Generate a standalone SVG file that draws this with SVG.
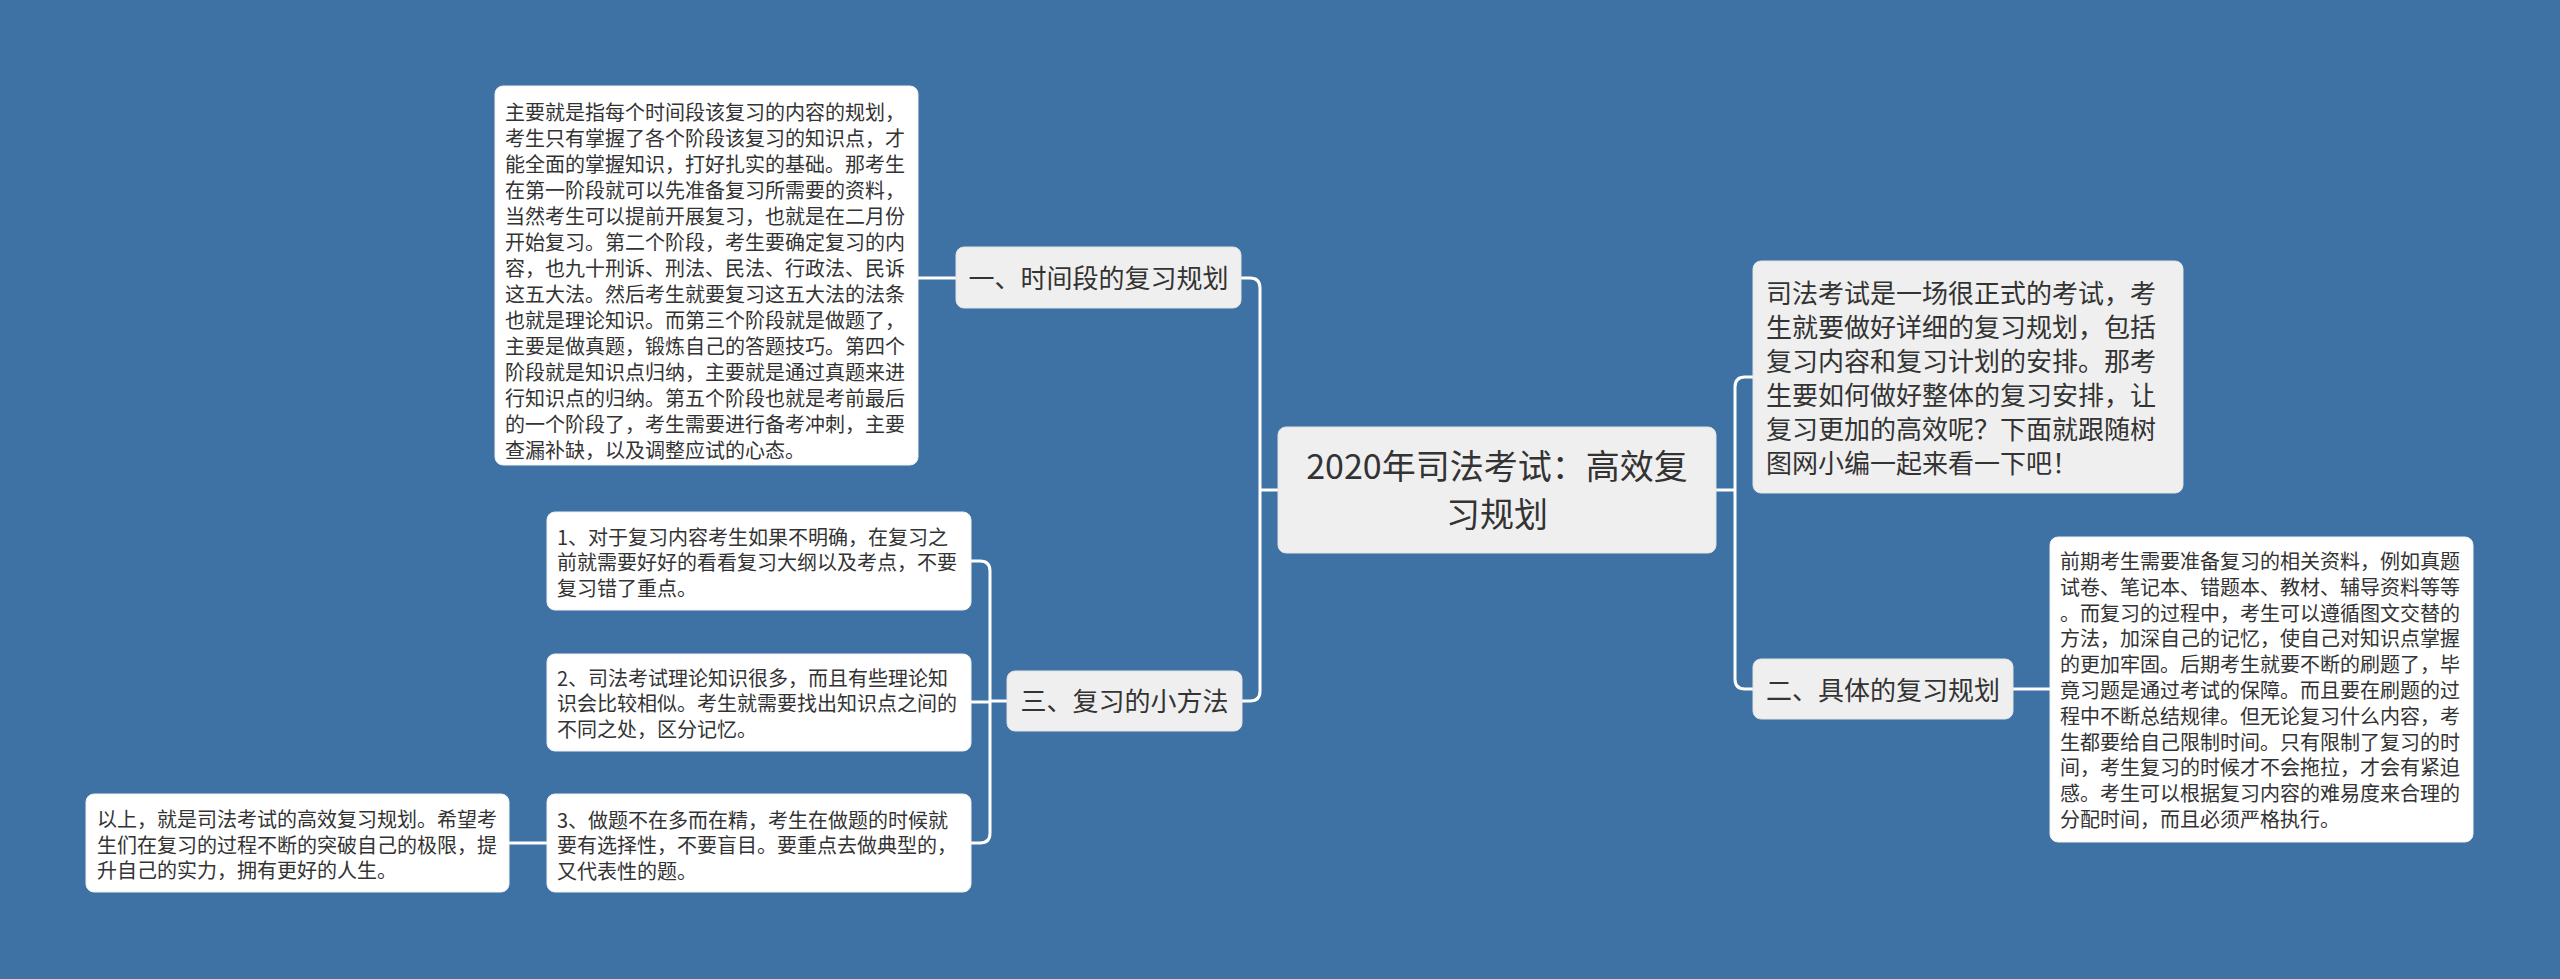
<svg xmlns="http://www.w3.org/2000/svg" width="2560" height="979" viewBox="0 0 2560 979">
<defs>
<style>
.bg{fill:#3e72a5}
.gray{fill:#efefef;stroke:#e2e2e2;stroke-width:1}
.white{fill:#ffffff;stroke:#f0f0f0;stroke-width:1}
.t{font-family:"Noto Sans CJK SC","Noto Sans",sans-serif;fill:#333333}
.root{font-size:34px;text-anchor:middle}
.br{font-size:26px;text-anchor:middle}
.intro{font-size:26px}
.d{font-size:20px}
.c{fill:none;stroke:#ffffff;stroke-width:3}
</style>
</defs>
<rect class="bg" x="0" y="0" width="2560" height="979"/>
<g id="connectors">
<path class="c" d="M1278,490 H1260"/>
<path class="c" d="M1241,278 H1250 Q1260,278 1260,288 V691 Q1260,701 1250,701 H1242"/>
<path class="c" d="M1716,490 H1735"/>
<path class="c" d="M1753,377 H1745 Q1735,377 1735,387 V679 Q1735,689 1745,689 H1753"/>
<path class="c" d="M956,278 H918"/>
<path class="c" d="M2013,689 H2050"/>
<path class="c" d="M1007,701 H990"/>
<path class="c" d="M971,561 H980 Q990,561 990,571 V833 Q990,843 980,843 H971"/>
<path class="c" d="M971,702 H990"/>
<path class="c" d="M547,843 H509"/>
</g>
<g id="root">
<rect class="gray" x="1278" y="427" width="438" height="126" rx="8"/>
<text class="t root" x="1497" y="479">2020年司法考试：高效复</text>
<text class="t root" x="1497" y="527">习规划</text>
</g>
<g id="intro">
<rect class="gray" x="1753" y="261" width="430" height="232" rx="8"/>
<text class="t intro" x="1766" y="303">司法考试是一场很正式的考试，考</text>
<text class="t intro" x="1766" y="337">生就要做好详细的复习规划，包括</text>
<text class="t intro" x="1766" y="371">复习内容和复习计划的安排。那考</text>
<text class="t intro" x="1766" y="405">生要如何做好整体的复习安排，让</text>
<text class="t intro" x="1766" y="439">复习更加的高效呢？下面就跟随树</text>
<text class="t intro" x="1766" y="473">图网小编一起来看一下吧！</text>
</g>
<g id="branch1">
<rect class="gray" x="956" y="247" width="285" height="61" rx="8"/>
<text class="t br" x="1098.5" y="288">一、时间段的复习规划</text>
</g>
<g id="branch1-detail">
<rect class="white" x="495" y="86" width="423" height="379" rx="8"/>
<text class="t d" x="505" y="119.5">主要就是指每个时间段该复习的内容的规划，</text>
<text class="t d" x="505" y="145.5">考生只有掌握了各个阶段该复习的知识点，才</text>
<text class="t d" x="505" y="171.5">能全面的掌握知识，打好扎实的基础。那考生</text>
<text class="t d" x="505" y="197.5">在第一阶段就可以先准备复习所需要的资料，</text>
<text class="t d" x="505" y="223.5">当然考生可以提前开展复习，也就是在二月份</text>
<text class="t d" x="505" y="249.5">开始复习。第二个阶段，考生要确定复习的内</text>
<text class="t d" x="505" y="275.5">容，也九十刑诉、刑法、民法、行政法、民诉</text>
<text class="t d" x="505" y="301.5">这五大法。然后考生就要复习这五大法的法条</text>
<text class="t d" x="505" y="327.5">也就是理论知识。而第三个阶段就是做题了，</text>
<text class="t d" x="505" y="353.5">主要是做真题，锻炼自己的答题技巧。第四个</text>
<text class="t d" x="505" y="379.5">阶段就是知识点归纳，主要就是通过真题来进</text>
<text class="t d" x="505" y="405.5">行知识点的归纳。第五个阶段也就是考前最后</text>
<text class="t d" x="505" y="431.5">的一个阶段了，考生需要进行备考冲刺，主要</text>
<text class="t d" x="505" y="457.5">查漏补缺，以及调整应试的心态。</text>
</g>
<g id="branch2">
<rect class="gray" x="1753" y="659" width="260" height="60" rx="8"/>
<text class="t br" x="1883" y="700">二、具体的复习规划</text>
</g>
<g id="branch2-detail">
<rect class="white" x="2050" y="537" width="423" height="305" rx="8"/>
<text class="t d" x="2060" y="569">前期考生需要准备复习的相关资料，例如真题</text>
<text class="t d" x="2060" y="594.8">试卷、笔记本、错题本、教材、辅导资料等等</text>
<text class="t d" x="2060" y="620.6">。而复习的过程中，考生可以遵循图文交替的</text>
<text class="t d" x="2060" y="646.4">方法，加深自己的记忆，使自己对知识点掌握</text>
<text class="t d" x="2060" y="672.2">的更加牢固。后期考生就要不断的刷题了，毕</text>
<text class="t d" x="2060" y="698">竟习题是通过考试的保障。而且要在刷题的过</text>
<text class="t d" x="2060" y="723.8">程中不断总结规律。但无论复习什么内容，考</text>
<text class="t d" x="2060" y="749.6">生都要给自己限制时间。只有限制了复习的时</text>
<text class="t d" x="2060" y="775.4">间，考生复习的时候才不会拖拉，才会有紧迫</text>
<text class="t d" x="2060" y="801.2">感。考生可以根据复习内容的难易度来合理的</text>
<text class="t d" x="2060" y="827">分配时间，而且必须严格执行。</text>
</g>
<g id="branch3">
<rect class="gray" x="1007" y="671" width="235" height="60" rx="8"/>
<text class="t br" x="1124.5" y="711">三、复习的小方法</text>
</g>
<g id="sub1">
<rect class="white" x="547" y="512" width="424" height="98" rx="8"/>
<text class="t d" x="557" y="544.5">1、对于复习内容考生如果不明确，在复习之</text>
<text class="t d" x="557" y="570">前就需要好好的看看复习大纲以及考点，不要</text>
<text class="t d" x="557" y="595.5">复习错了重点。</text>
</g>
<g id="sub2">
<rect class="white" x="547" y="654" width="424" height="97" rx="8"/>
<text class="t d" x="557" y="685.5">2、司法考试理论知识很多，而且有些理论知</text>
<text class="t d" x="557" y="711">识会比较相似。考生就需要找出知识点之间的</text>
<text class="t d" x="557" y="736.5">不同之处，区分记忆。</text>
</g>
<g id="sub3">
<rect class="white" x="547" y="794" width="424" height="98" rx="8"/>
<text class="t d" x="557" y="827.5">3、做题不在多而在精，考生在做题的时候就</text>
<text class="t d" x="557" y="853">要有选择性，不要盲目。要重点去做典型的，</text>
<text class="t d" x="557" y="878.5">又代表性的题。</text>
</g>
<g id="final">
<rect class="white" x="86" y="794" width="423" height="98" rx="8"/>
<text class="t d" x="97" y="827">以上，就是司法考试的高效复习规划。希望考</text>
<text class="t d" x="97" y="852.5">生们在复习的过程不断的突破自己的极限，提</text>
<text class="t d" x="97" y="878">升自己的实力，拥有更好的人生。</text>
</g>
</svg>
